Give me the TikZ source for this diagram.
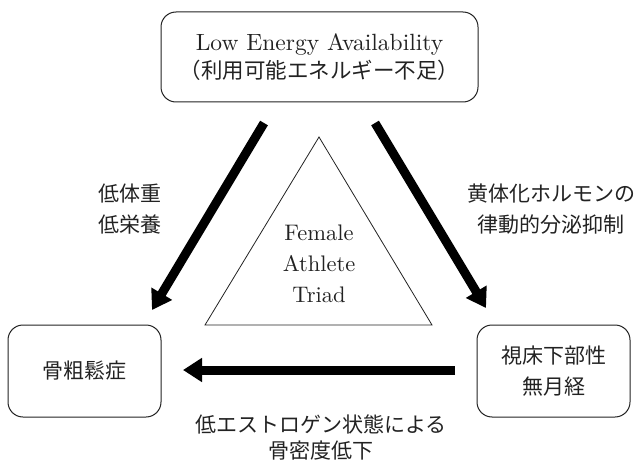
\documentclass[tikz,border=0pt]{standalone}
\usepackage{fontspec}
\newfontfamily\jp{Noto Sans CJK JP}
\newfontfamily\lmr{lmroman10-regular}[Extension=.otf]
\usetikzlibrary{arrows.meta}
\definecolor{ink}{HTML}{222222}
\tikzset{
  roundbox/.style={draw=ink, line width=1pt, rounded corners=15pt, inner sep=0pt, align=center, text=ink},
  txt/.style={align=center, text=ink, inner sep=0pt},
  bigarrow/.style={line width=9pt, black, -{Triangle[width=23pt,length=19pt]}},
  jpf/.style={font=\jp\fontsize{21}{31}\selectfont},
}
\begin{document}
\begin{tikzpicture}[x=1pt,y=-1pt]
\useasboundingbox (0,0) rectangle (643,460);
% boxes
\node[roundbox, minimum width=317pt, minimum height=90pt] (lea) at (319.5,57)
  {\lmr\fontsize{23.5}{30}\selectfont Low Energy Availability\\[3pt]
   {\jp\fontsize{21.5}{30}\selectfont （利用可能エネルギー不足）}};
\node[roundbox, minimum width=153pt, minimum height=92pt, jpf] (osteo) at (84.5,371) {骨粗鬆症};
\node[roundbox, minimum width=153pt, minimum height=92pt, jpf] (amen) at (553.5,371) {視床下部性\\無月経};
% triangle
\coordinate (tA) at (319,137);
\coordinate (tB) at (205,325);
\coordinate (tC) at (432,325);
\draw[ink, line width=0.8pt, line join=miter] (tA) -- (tB) -- (tC) -- cycle;
\node[txt, font=\lmr\fontsize{22.5}{31}\selectfont] (fat) at (319,264) {Female\\Athlete\\Triad};
% arrows
\coordinate (l1) at (264,123);
\coordinate (l2) at (152,310);
\coordinate (r1) at (375,123);
\coordinate (r2) at (486,308);
\coordinate (b1) at (455,370);
\coordinate (b2) at (183,370);
\draw[bigarrow] (l1) -- (l2);
\draw[bigarrow] (r1) -- (r2);
\draw[bigarrow] (b1) -- (b2);
% labels
\node[txt, jpf] (lab1) at (130,209) {低体重\\低栄養};
\node[txt, jpf] (lab2) at (551,209) {黄体化ホルモンの\\律動的分泌抑制};
\node[txt, font=\jp\fontsize{21}{26}\selectfont] (lab3) at (321,437) {低エストロゲン状態による\\骨密度低下};
\end{tikzpicture}
\end{document}
